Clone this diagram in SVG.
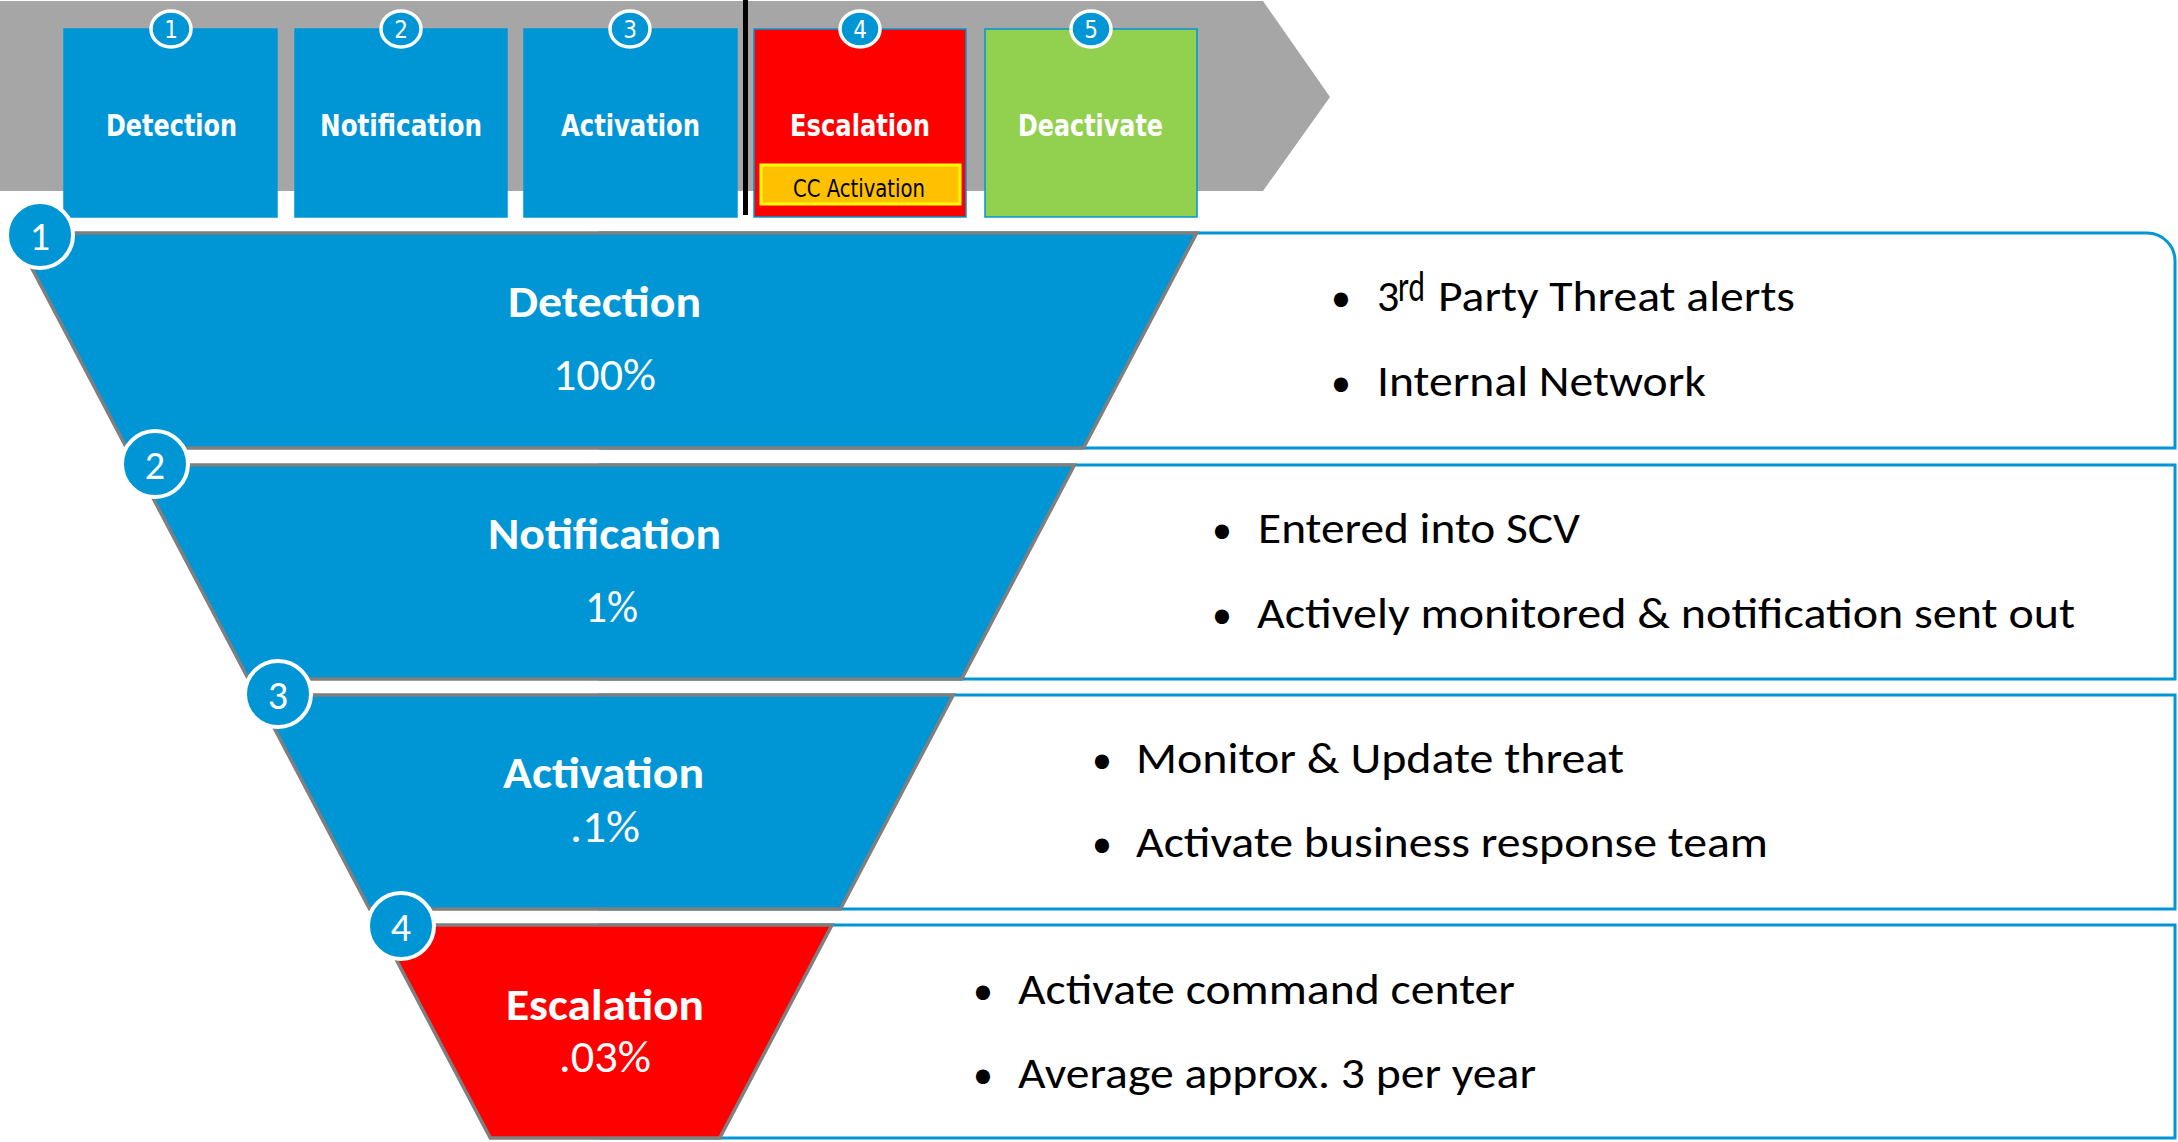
<svg xmlns="http://www.w3.org/2000/svg" width="2178" height="1142" viewBox="0 0 2178 1142">
<style>
.bx{stroke:#0096D6;stroke-width:1.5}
.blue{fill:#0096D6}
.hc{fill:#0096D6;stroke:#fff;stroke-width:3.5}
.ht{font-family:"DejaVu Sans Condensed","DejaVu Sans",sans-serif;font-weight:bold;font-size:31px;fill:#fff}
.hn{font-family:"DejaVu Sans Condensed","DejaVu Sans",sans-serif;font-size:24px;fill:#fff;text-anchor:middle}
.fn{stroke:#7F7F7F;stroke-width:3.5}
.fc{fill:#0096D6;stroke:#fff;stroke-width:4}
.fnum{font-family:Carlito,Lato,sans-serif;font-size:40px;fill:#fff;text-anchor:middle}
.ft{font-family:Carlito,Lato,sans-serif;font-weight:bold;font-size:45px;fill:#fff}
.fp{font-family:Carlito,Lato,sans-serif;font-size:45px;fill:#fff}
.tb{fill:#fff;stroke:#0096D6;stroke-width:3}
.rt{font-family:Carlito,Lato,sans-serif;font-size:44px;fill:#000}
.bl{font-family:Carlito,Lato,sans-serif;font-size:40px;fill:#000}
</style>
<g id="banner">
<polygon points="0,1 1263,1 1330,97 1263,191 0,191" fill="#A6A6A6"/>
<rect x="743" y="0" width="5" height="215" fill="#000"/>
</g>
<g id="step1">
<rect class="bx blue" x="64" y="29" width="213" height="188"/>
<ellipse class="hc" cx="171" cy="29" rx="20" ry="18"/>
<text class="hn" x="171" y="38">1</text>
<text class="ht" x="106" y="136" textLength="131" lengthAdjust="spacingAndGlyphs">Detection</text>
</g>
<g id="step2">
<rect class="bx blue" x="295" y="29" width="212" height="188"/>
<ellipse class="hc" cx="401" cy="29" rx="20" ry="18"/>
<text class="hn" x="401" y="38">2</text>
<text class="ht" x="320" y="136" textLength="162" lengthAdjust="spacingAndGlyphs">Notification</text>
</g>
<g id="step3">
<rect class="bx blue" x="524" y="29" width="213" height="188"/>
<ellipse class="hc" cx="630" cy="29" rx="20" ry="18"/>
<text class="hn" x="630" y="38">3</text>
<text class="ht" x="561" y="136" textLength="139" lengthAdjust="spacingAndGlyphs">Activation</text>
</g>
<g id="step4">
<rect class="bx" x="754" y="29" width="212" height="188" fill="#FF0000"/>
<ellipse class="hc" cx="860" cy="29" rx="20" ry="18"/>
<text class="hn" x="860" y="38">4</text>
<text class="ht" x="790" y="136" textLength="140" lengthAdjust="spacingAndGlyphs">Escalation</text>
<rect x="761" y="165" width="199" height="39" fill="#FFC000" stroke="#FFFF00" stroke-width="3"/>
<text x="793" y="197" font-family="DejaVu Sans Condensed,DejaVu Sans,sans-serif" font-size="25" fill="#000" textLength="132" lengthAdjust="spacingAndGlyphs">CC Activation</text>
</g>
<g id="step5">
<rect class="bx" x="985" y="29" width="212" height="188" fill="#92D050"/>
<ellipse class="hc" cx="1091" cy="29" rx="20" ry="18"/>
<text class="hn" x="1091" y="38">5</text>
<text class="ht" x="1018" y="136" textLength="145" lengthAdjust="spacingAndGlyphs">Deactivate</text>
</g>
<g id="connectors"></g>
<g id="layer1">
<path class="tb" d="M600,233 H2147 A28,28 0 0 1 2175,261 V448 H600 Z"/>
<polygon class="fn blue" points="13.3,233 1196.7,233 1083.4,448 126.6,448"/>
<text class="ft" x="508" y="317" textLength="193" lengthAdjust="spacingAndGlyphs">Detection</text>
<text class="fp" x="553" y="390" textLength="103" lengthAdjust="spacingAndGlyphs">100%</text>
<text class="bl" x="1331" y="311">•</text>
<text class="rt" x="1377" y="311">3</text>
<text class="rt" x="1398" y="301" font-size="26" textLength="27" lengthAdjust="spacingAndGlyphs">rd</text>
<text class="rt" x="1438" y="311" textLength="357" lengthAdjust="spacingAndGlyphs">Party Threat alerts</text>
<text class="bl" x="1331" y="396">•</text>
<text class="rt" x="1377" y="396" textLength="329" lengthAdjust="spacingAndGlyphs">Internal Network</text>
<circle class="fc" cx="40" cy="235" r="33"/>
<text class="fnum" x="40" y="250">1</text>
</g>
<g id="layer2">
<rect class="tb" x="600" y="465" width="1575" height="214"/>
<polygon class="fn blue" points="135.6,465 1074.4,465 961.6,679 248.4,679"/>
<text class="ft" x="488" y="549" textLength="233" lengthAdjust="spacingAndGlyphs">Notification</text>
<text class="fp" x="585" y="622" textLength="53" lengthAdjust="spacingAndGlyphs">1%</text>
<text class="bl" x="1212" y="543">•</text>
<text class="rt" x="1258" y="543" textLength="322" lengthAdjust="spacingAndGlyphs">Entered into SCV</text>
<text class="bl" x="1212" y="628">•</text>
<text class="rt" x="1257" y="628" textLength="818" lengthAdjust="spacingAndGlyphs">Actively monitored &amp; notification sent out</text>
<circle class="fc" cx="155" cy="464" r="33"/>
<text class="fnum" x="155" y="479">2</text>
</g>
<g id="layer3">
<rect class="tb" x="600" y="695" width="1575" height="214"/>
<polygon class="fn blue" points="256.8,695 953.2,695 840.4,909 369.6,909"/>
<text class="ft" x="503" y="788" textLength="201" lengthAdjust="spacingAndGlyphs">Activation</text>
<text class="fp" x="570" y="842" textLength="70" lengthAdjust="spacingAndGlyphs">.1%</text>
<text class="bl" x="1092" y="773">•</text>
<text class="rt" x="1136" y="773" textLength="488" lengthAdjust="spacingAndGlyphs">Monitor &amp; Update threat</text>
<text class="bl" x="1092" y="857">•</text>
<text class="rt" x="1136" y="857" textLength="632" lengthAdjust="spacingAndGlyphs">Activate business response team</text>
<circle class="fc" cx="278" cy="694" r="33"/>
<text class="fnum" x="278" y="709">3</text>
</g>
<g id="layer4">
<rect class="tb" x="600" y="925" width="1575" height="213"/>
<polygon class="fn" fill="#FF0000" points="378,925 832,925 719.7,1138 490.3,1138"/>
<text class="ft" x="506" y="1020" textLength="198" lengthAdjust="spacingAndGlyphs">Escalation</text>
<text class="fp" x="559" y="1072" textLength="92" lengthAdjust="spacingAndGlyphs">.03%</text>
<text class="bl" x="973" y="1004">•</text>
<text class="rt" x="1018" y="1004" textLength="497" lengthAdjust="spacingAndGlyphs">Activate command center</text>
<text class="bl" x="973" y="1088">•</text>
<text class="rt" x="1018" y="1088" textLength="518" lengthAdjust="spacingAndGlyphs">Average approx. 3 per year</text>
<circle class="fc" cx="401" cy="926" r="33"/>
<text class="fnum" x="401" y="941">4</text>
</g>
</svg>
